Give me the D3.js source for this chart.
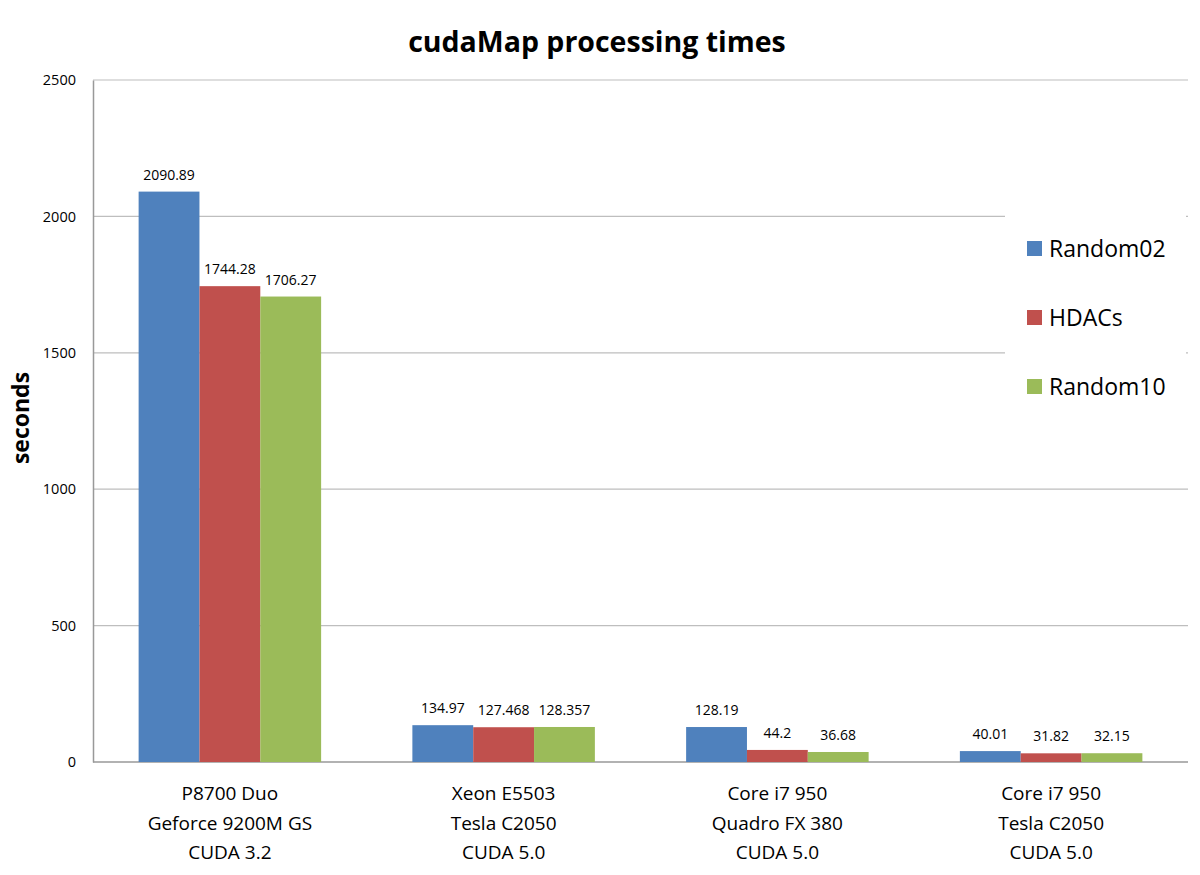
<!DOCTYPE html>
<html>
<head>
<meta charset="utf-8">
<script src="https://cdn.jsdelivr.net/npm/d3@7"></script>
<style>
  body { margin: 0; background: #fff; }
  svg text { font-family: "Open Sans", "Liberation Sans", sans-serif; fill: #000; }
</style>
</head>
<body>
<svg id="chart" width="1200" height="875"></svg>
<script>
// chart data
const categories = [
  ["P8700 Duo", "Geforce 9200M GS", "CUDA 3.2"],
  ["Xeon E5503", "Tesla C2050", "CUDA 5.0"],
  ["Core i7 950", "Quadro FX 380", "CUDA 5.0"],
  ["Core i7 950", "Tesla C2050", "CUDA 5.0"]
];
const seriesNames = ["Random02", "HDACs", "Random10"];
const random02 = [2090.89, 134.97, 128.19, 40.01];
const hdacs = [1744.28, 127.468, 44.2, 31.82];
const random10 = [1706.27, 128.357, 36.68, 32.15];
const labels02 = ["2090.89", "134.97", "128.19", "40.01"];
const labelsH = ["1744.28", "127.468", "44.2", "31.82"];
const labels10 = ["1706.27", "128.357", "36.68", "32.15"];
const yTicks = [0, 500, 1000, 1500, 2000, 2500];
const colors = ["#4F81BD", "#C0504D", "#9BBB59"];

const config = {
  margin: {top: 80, right: 12, bottom: 113, left: 93},
  width: 1200, height: 875
};
const width = config.width - config.margin.left - config.margin.right;
const height = config.height - config.margin.top - config.margin.bottom;

const values = [random02, hdacs, random10];
const valueLabels = [labels02, labelsH, labels10];
const rows = categories.map((c, i) => ({
  key: i,
  lines: c,
  vals: values.map((s, j) => ({series: j, value: s[i], label: valueLabels[j][i]}))
}));

const svg = d3.select("#chart");

// title
svg.append("text")
    .attr("x", 597).attr("y", 52)
    .attr("text-anchor", "middle")
    .style("font-size", "28.5px").style("font-weight", "bold")
    .text("cudaMap processing times");

// y label
svg.append("text")
    .attr("transform", "translate(29,418) rotate(-90)")
    .attr("text-anchor", "middle")
    .style("font-size", "23px").style("font-weight", "bold")
    .text("seconds");

const chart = svg.append("g")
    .attr("transform", `translate(${config.margin.left},${config.margin.top})`);

const yScale = d3.scaleLinear().domain([0, 2500]).range([height, 0]);
const xScale = d3.scaleBand().domain(rows.map(d => d.key)).range([0, width]).paddingInner(0).paddingOuter(0);
const xInner = d3.scaleBand().domain([0, 1, 2]).range([0, xScale.bandwidth()]).paddingOuter(0.75).paddingInner(0);

// gridlines
chart.append("g").selectAll("line")
    .data(yTicks.filter(t => t > 0))
  .join("line")
    .attr("x1", 0).attr("x2", width)
    .attr("y1", d => yScale(d)).attr("y2", d => yScale(d))
    .attr("stroke", "#BEBEBE").attr("stroke-width", 1.2);

// y axis
const yAxis = d3.axisLeft(yScale).tickValues(yTicks).tickFormat(d3.format("d")).tickSize(0).tickPadding(17);
const yAxisG = chart.append("g").call(yAxis);
yAxisG.select(".domain").attr("stroke", "#999").attr("stroke-width", 1.5);
yAxisG.selectAll("text").style("font-size", "14.5px").style("font-family", "'Open Sans', sans-serif").attr("fill", "#000");

// x axis line
chart.append("line")
    .attr("x1", 0).attr("x2", width)
    .attr("y1", yScale(0)).attr("y2", yScale(0))
    .attr("stroke", "#999").attr("stroke-width", 1.5);

// bars
const group = chart.selectAll(".category")
    .data(rows)
  .join("g")
    .attr("class", "category")
    .attr("transform", d => `translate(${xScale(d.key)},0)`);

group.selectAll("rect")
    .data(d => d.vals)
  .join("rect")
    .attr("x", d => xInner(d.series))
    .attr("y", d => yScale(d.value))
    .attr("width", xInner.bandwidth())
    .attr("height", d => yScale(0) - yScale(d.value))
    .attr("fill", d => colors[d.series]);

group.selectAll(".val")
    .data(d => d.vals)
  .join("text")
    .attr("class", "val")
    .attr("x", d => xInner(d.series) + xInner.bandwidth() / 2)
    .attr("y", d => yScale(d.value) - 12)
    .attr("text-anchor", "middle")
    .style("font-size", "14px")
    .text(d => d.label);

// category labels
group.selectAll(".cat")
    .data(d => d.lines)
  .join("text")
    .attr("class", "cat")
    .attr("x", xScale.bandwidth() / 2)
    .attr("y", (d, i) => height + 38 + i * 29.5)
    .attr("text-anchor", "middle")
    .style("font-size", "19px")
    .text(d => d);

// legend
const legend = svg.append("g");
legend.append("rect")
    .attr("x", 1005).attr("y", 200).attr("width", 181).attr("height", 205)
    .attr("fill", "#fff");
const item = legend.selectAll(".item")
    .data(seriesNames)
  .join("g")
    .attr("class", "item")
    .attr("transform", (d, i) => `translate(1027,${249 + i * 69})`);
item.append("rect")
    .attr("x", 0).attr("y", -8).attr("width", 15).attr("height", 15)
    .attr("fill", (d, i) => colors[i]);
item.append("text")
    .attr("x", 22).attr("y", 8)
    .style("font-size", "23px")
    .text(d => d);
</script>
</body>
</html>
